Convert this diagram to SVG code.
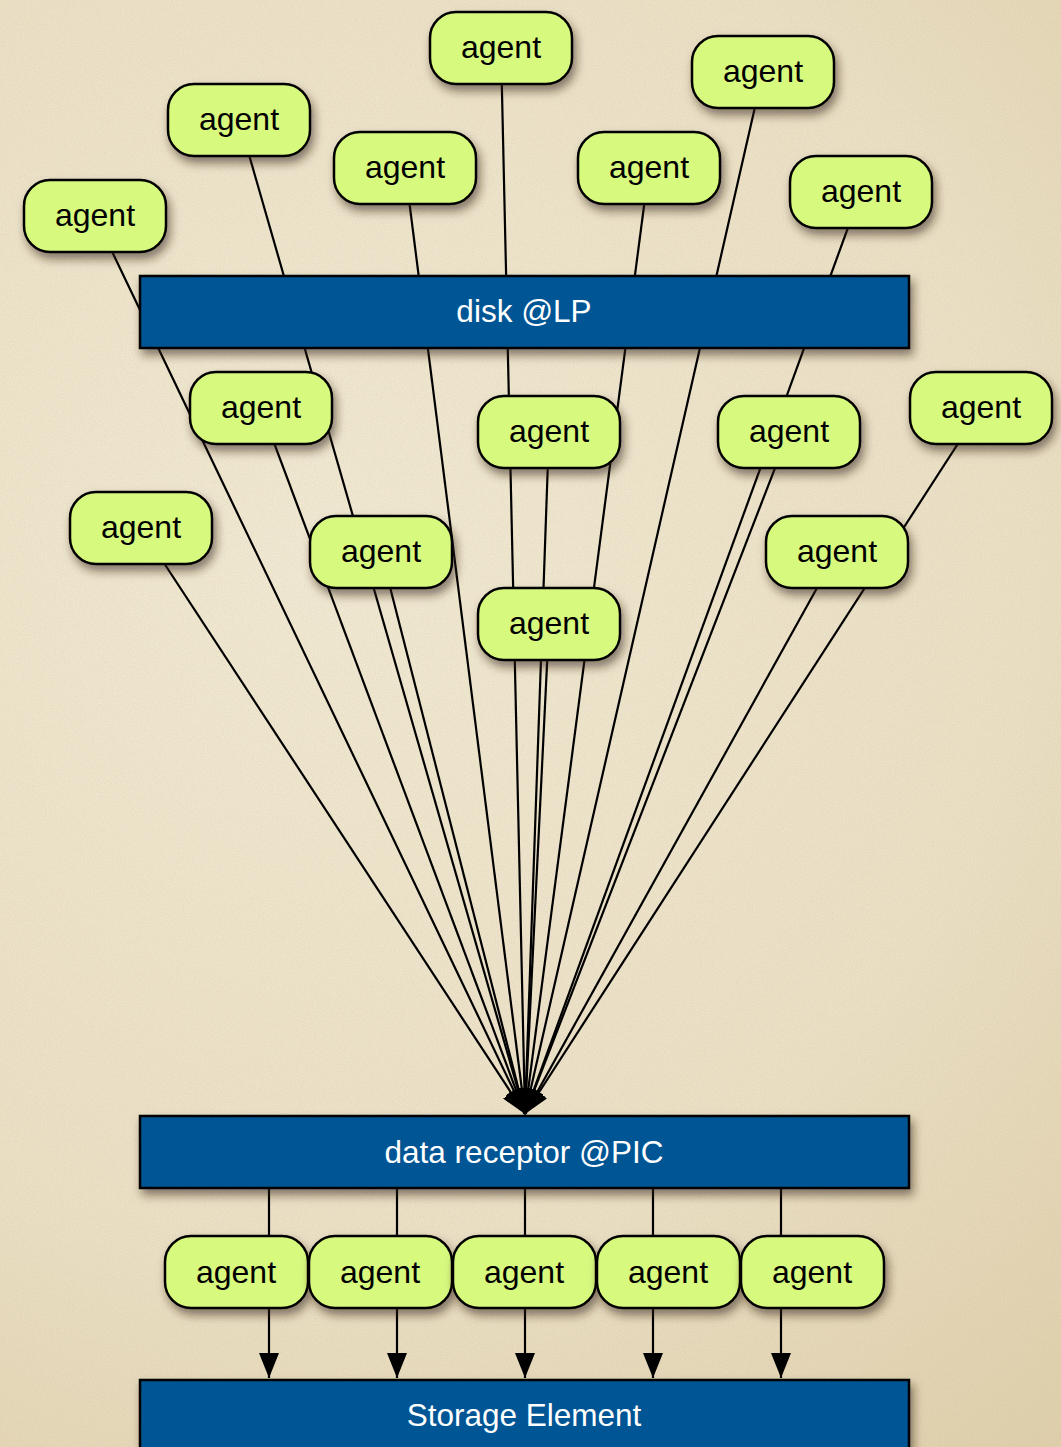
<svg xmlns="http://www.w3.org/2000/svg" width="1061" height="1447" viewBox="0 0 1061 1447">
  <defs>
    <radialGradient id="paper" cx="320" cy="560" r="1150" gradientUnits="userSpaceOnUse">
      <stop offset="0" stop-color="#F2EAD4"/>
      <stop offset="0.6" stop-color="#ECE1C6"/>
      <stop offset="1" stop-color="#E0D0AC"/>
    </radialGradient>
    <filter id="grain" x="0" y="0" width="100%" height="100%">
      <feTurbulence type="fractalNoise" baseFrequency="0.9" numOctaves="2" seed="7" result="n"/>
      <feColorMatrix in="n" type="matrix" values="0 0 0 0 0.45  0 0 0 0 0.38  0 0 0 0 0.25  0 0 0 0.9 -0.25"/>
    </filter>
    <filter id="shadow" x="-20%" y="-30%" width="140%" height="180%">
      <feDropShadow dx="3" dy="6" stdDeviation="5" flood-color="#2e200a" flood-opacity="0.55"/>
    </filter>
    <marker id="arrow" markerUnits="userSpaceOnUse" markerWidth="25" markerHeight="20" refX="25" refY="10" orient="auto">
      <path d="M0,0 L25,10 L0,20 z" fill="#000"/>
    </marker>
    <style>
      .agent rect { fill: #D7F97E; stroke: #000; stroke-width: 2.5; filter: url(#shadow); }
      .agent text { font-family: "Liberation Sans", Arial, sans-serif; font-size: 32px; fill: #000; text-anchor: middle; }
      .bar rect { fill: #005595; stroke: #000; stroke-width: 2.5; filter: url(#shadow); }
      .bar text { font-family: "Liberation Sans", Arial, sans-serif; font-size: 31.5px; fill: #fff; text-anchor: middle; }
      .edges line { stroke: #000; stroke-width: 2.2; marker-end: url(#arrow); }
    </style>
  </defs>

  <!-- paper background -->
  <rect x="0" y="0" width="1061" height="1447" fill="url(#paper)"/>
  <rect x="0" y="0" width="1061" height="1447" filter="url(#grain)" opacity="0.3"/>

  <!-- connectors: every upper agent feeds the data receptor -->
  <g id="connectors" class="edges">
    <line x1="95" y1="216" x2="525" y2="1114"/>
    <line x1="239" y1="120" x2="525" y2="1114"/>
    <line x1="405" y1="168" x2="525" y2="1114"/>
    <line x1="501" y1="48" x2="525" y2="1114"/>
    <line x1="649" y1="168" x2="525" y2="1114"/>
    <line x1="763" y1="72" x2="525" y2="1114"/>
    <line x1="861" y1="192" x2="525" y2="1114"/>
    <line x1="261" y1="408" x2="525" y2="1114"/>
    <line x1="549" y1="432" x2="525" y2="1114"/>
    <line x1="789" y1="432" x2="525" y2="1114"/>
    <line x1="981" y1="408" x2="525" y2="1114"/>
    <line x1="141" y1="528" x2="525" y2="1114"/>
    <line x1="381" y1="552" x2="525" y2="1114"/>
    <line x1="837" y1="552" x2="525" y2="1114"/>
    <line x1="549" y1="624" x2="525" y2="1114"/>
    <!-- receptor to storage -->
    <line x1="269" y1="1188" x2="269" y2="1378"/>
    <line x1="397" y1="1188" x2="397" y2="1378"/>
    <line x1="525" y1="1188" x2="525" y2="1378"/>
    <line x1="653" y1="1188" x2="653" y2="1378"/>
    <line x1="781" y1="1188" x2="781" y2="1378"/>
  </g>

  <!-- disk bar -->
  <g id="disk" class="bar">
    <rect x="140" y="276" width="769" height="72"/>
    <text x="524" y="322">disk @LP</text>
  </g>

  <!-- top agents -->
  <g id="agent-t1" class="agent"><rect x="24" y="180" width="142" height="72" rx="26"/><text x="95" y="226">agent</text></g>
  <g id="agent-t2" class="agent"><rect x="168" y="84" width="142" height="72" rx="26"/><text x="239" y="130">agent</text></g>
  <g id="agent-t3" class="agent"><rect x="334" y="132" width="142" height="72" rx="26"/><text x="405" y="178">agent</text></g>
  <g id="agent-t4" class="agent"><rect x="430" y="12" width="142" height="72" rx="26"/><text x="501" y="58">agent</text></g>
  <g id="agent-t5" class="agent"><rect x="578" y="132" width="142" height="72" rx="26"/><text x="649" y="178">agent</text></g>
  <g id="agent-t6" class="agent"><rect x="692" y="36" width="142" height="72" rx="26"/><text x="763" y="82">agent</text></g>
  <g id="agent-t7" class="agent"><rect x="790" y="156" width="142" height="72" rx="26"/><text x="861" y="202">agent</text></g>

  <!-- middle agents -->
  <g id="agent-m1" class="agent"><rect x="190" y="372" width="142" height="72" rx="26"/><text x="261" y="418">agent</text></g>
  <g id="agent-m2" class="agent"><rect x="478" y="396" width="142" height="72" rx="26"/><text x="549" y="442">agent</text></g>
  <g id="agent-m3" class="agent"><rect x="718" y="396" width="142" height="72" rx="26"/><text x="789" y="442">agent</text></g>
  <g id="agent-m4" class="agent"><rect x="910" y="372" width="142" height="72" rx="26"/><text x="981" y="418">agent</text></g>
  <g id="agent-m5" class="agent"><rect x="70" y="492" width="142" height="72" rx="26"/><text x="141" y="538">agent</text></g>
  <g id="agent-m6" class="agent"><rect x="310" y="516" width="142" height="72" rx="26"/><text x="381" y="562">agent</text></g>
  <g id="agent-m7" class="agent"><rect x="766" y="516" width="142" height="72" rx="26"/><text x="837" y="562">agent</text></g>
  <g id="agent-m8" class="agent"><rect x="478" y="588" width="142" height="72" rx="26"/><text x="549" y="634">agent</text></g>

  <!-- data receptor bar -->
  <g id="receptor" class="bar">
    <rect x="140" y="1116" width="769" height="72"/>
    <text x="524" y="1163">data receptor @PIC</text>
  </g>

  <!-- bottom agents -->
  <g id="agent-b1" class="agent"><rect x="165" y="1236" width="143" height="72" rx="26"/><text x="236" y="1283">agent</text></g>
  <g id="agent-b2" class="agent"><rect x="309" y="1236" width="143" height="72" rx="26"/><text x="380" y="1283">agent</text></g>
  <g id="agent-b3" class="agent"><rect x="453" y="1236" width="143" height="72" rx="26"/><text x="524" y="1283">agent</text></g>
  <g id="agent-b4" class="agent"><rect x="597" y="1236" width="143" height="72" rx="26"/><text x="668" y="1283">agent</text></g>
  <g id="agent-b5" class="agent"><rect x="741" y="1236" width="143" height="72" rx="26"/><text x="812" y="1283">agent</text></g>

  <!-- storage bar -->
  <g id="storage" class="bar">
    <rect x="140" y="1380" width="769" height="90"/>
    <text x="524" y="1426">Storage Element</text>
  </g>
</svg>
